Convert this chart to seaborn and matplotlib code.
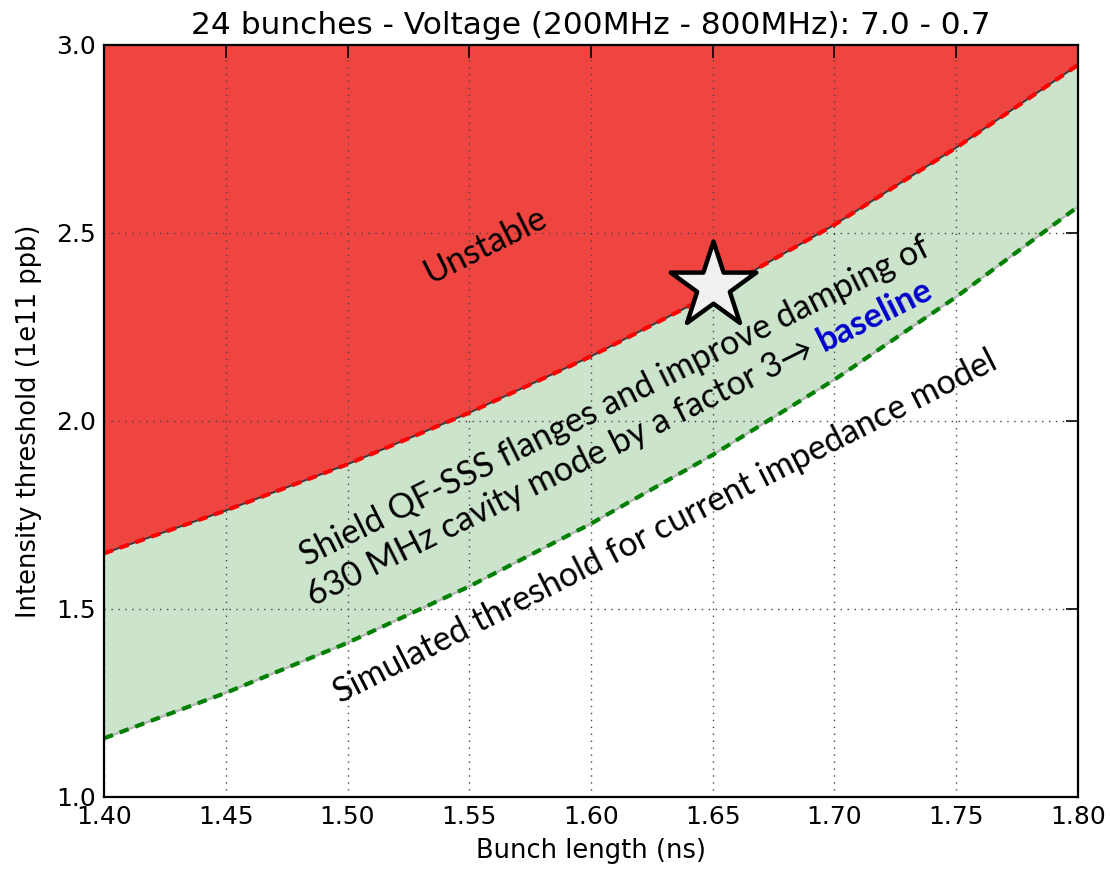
import numpy as np
import pandas as pd
import matplotlib
matplotlib.use("Agg")
import matplotlib.pyplot as plt
import seaborn as sns

# Bunch length grid (ns) and the two intensity thresholds (1e11 ppb)
bunch_length = [1.40, 1.45, 1.50, 1.55, 1.60, 1.65, 1.70, 1.75, 1.80]
threshold_improved = [1.648, 1.762, 1.885, 2.022, 2.172, 2.338, 2.522, 2.727, 2.947]
threshold_current = [1.156, 1.277, 1.410, 1.560, 1.727, 1.910, 2.110, 2.330, 2.570]

# Baseline working point
star_x = [1.65]
star_y = [2.36]

x_ticks = [1.40, 1.45, 1.50, 1.55, 1.60, 1.65, 1.70, 1.75, 1.80]
y_ticks = [1.0, 1.5, 2.0, 2.5, 3.0]

title = "24 bunches - Voltage (200MHz - 800MHz): 7.0 - 0.7"
xlabel = "Bunch length (ns)"
ylabel = "Intensity threshold (1e11 ppb)"
label_unstable = "Unstable"
label_line1 = "Shield QF-SSS flanges and improve damping of"
label_line2 = "630 MHz cavity mode by a factor 3\u2192 "
label_baseline = "baseline"
label_current = "Simulated threshold for current impedance model"

df = pd.DataFrame({"bunch_length": bunch_length,
                   "improved": threshold_improved,
                   "current": threshold_current})

sns.set_style("white")
plt.rcParams["font.family"] = ["DejaVu Sans"]
plt.rcParams["text.color"] = "black"
plt.rcParams["axes.labelcolor"] = "black"

fig = plt.figure(figsize=(11.1, 8.69), dpi=100)
ax = fig.add_axes([104 / 1110, 1 - 797 / 869, 974 / 1110, 752 / 869])

x = df["bunch_length"].to_numpy()
ylo = df["current"].to_numpy()
yhi = df["improved"].to_numpy()

# Regions: unstable above the improved threshold, gain band between thresholds
ax.fill_between(x, yhi, 3.0, color="#ef4541", lw=0, zorder=1)
ax.fill_between(x, ylo, yhi, color="#cde4cc", lw=0, zorder=1)

# Thin outlines under the dashed threshold curves
ax.plot(x, yhi, color="#3a3a3a", lw=1.4, zorder=3)
ax.plot(x, ylo, color="#b5b5b5", lw=1.6, zorder=3)

sns.lineplot(data=df, x="bunch_length", y="improved", ax=ax, color="red",
             lw=3, dashes=False, zorder=4, linestyle=(0, (2.3, 1.7)))
sns.lineplot(data=df, x="bunch_length", y="current", ax=ax, color="green",
             lw=3, dashes=False, zorder=4, linestyle=(0, (2.3, 1.7)))

sns.scatterplot(x=star_x, y=star_y, ax=ax, marker="*", s=4200,
                color="#f0f0f0", edgecolor="black", linewidth=3.2, zorder=6)

ax.set_xlim(1.40, 1.80)
ax.set_ylim(1.0, 3.0)
ax.set_xticks(x_ticks)
ax.set_xticklabels([f"{v:.2f}" for v in x_ticks])
ax.set_yticks(y_ticks)
ax.set_yticklabels([f"{v:.1f}" for v in y_ticks])

ax.grid(True, color="#444444", linestyle=(0, (1, 4)), lw=1.0, zorder=2)
ax.set_axisbelow(False)
for gl in ax.get_xgridlines() + ax.get_ygridlines():
    gl.set_zorder(2)

ax.tick_params(direction="in", length=9, width=1.2, top=True, right=True,
               labelsize=18, pad=6, colors="black")
for sp in ax.spines.values():
    sp.set_color("black")
    sp.set_linewidth(1.6)
    sp.set_zorder(10)

ax.set_title(title, fontsize=22.5, pad=8)
ax.set_xlabel(xlabel, fontsize=18.5, labelpad=6)
ax.set_ylabel(ylabel, fontsize=18.5, labelpad=10)

ann_font = ["Lato", "DejaVu Sans"]
ann_size = 24.5
angle = 26.5


def px_to_data(px, py):
    return (1.40 + (px - 104) / 974 * 0.4, 1.0 + (797 - py) / 376)


ax.text(*px_to_data(485, 245), label_unstable, rotation=angle,
        rotation_mode="anchor", ha="center", va="center", fontsize=ann_size,
        family=ann_font, zorder=7)
ax.text(*px_to_data(615, 402), label_line1, rotation=angle,
        rotation_mode="anchor", ha="center", va="center", fontsize=ann_size,
        family=ann_font, zorder=7)
t2 = ax.text(*px_to_data(313, 607), label_line2, rotation=0,
             rotation_mode="anchor", ha="left", va="baseline", fontsize=ann_size,
             family=ann_font, zorder=7)
ax.text(*px_to_data(665, 527), label_current, rotation=27,
        rotation_mode="anchor", ha="center", va="center", fontsize=ann_size,
        family=ann_font, zorder=7)

# Put the bold blue word right after the second line, along the same baseline
fig.canvas.draw()
w = t2.get_window_extent().width
t2.set_rotation(angle)
x0, y0 = ax.transData.transform(t2.get_position())
th = np.deg2rad(angle)
bx, by = ax.transData.inverted().transform((x0 + w * np.cos(th), y0 + w * np.sin(th)))
ax.text(bx, by, label_baseline, rotation=angle, rotation_mode="anchor",
        ha="left", va="baseline", fontsize=ann_size, family=ann_font,
        fontweight="bold", color="#0000cc", zorder=7)

fig.savefig("out.png", dpi=100)
